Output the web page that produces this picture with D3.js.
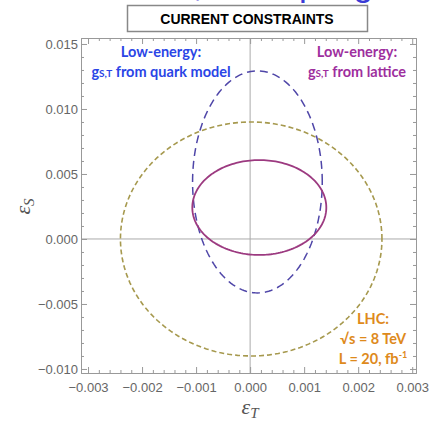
<!DOCTYPE html>
<html>
<head>
<meta charset="utf-8">
<script src="https://cdn.jsdelivr.net/npm/d3@7"></script>
<style>
  body { margin: 0; background: #fff; }
  svg { display: block; }
</style>
</head>
<body>
<svg id="chart"></svg>
<script>
// axis ticks
const xTicks = [-0.003, -0.002, -0.001, 0.000, 0.001, 0.002, 0.003];
const yTicks = [-0.010, -0.005, 0.000, 0.005, 0.010, 0.015];

// constraint ellipses: [centre eT, centre eS, half-width, half-height]
const quarkModel = [0.000135, 0.00439, 0.00120, 0.00854];
const lattice = [0.000170, 0.00242, 0.00124, 0.00365];
const lhc = [0.00002, 0.0000, 0.00242, 0.00900];

const W = 431, H = 425;
const mLeft = 81, mRight = 416, mTop = 38, mBottom = 373;

const svg = d3.select('#chart').attr('width', W).attr('height', H);
svg.append('rect').attr('width', W).attr('height', H).attr('fill', '#fff');

// scales
const x = d3.scaleLinear().domain([-0.00313, 0.00307]).range([mLeft, mRight]);
const y = d3.scaleLinear().domain([-0.01031, 0.01546]).range([mBottom, mTop]);

// cut-off heading at the very top
svg.append('text')
    .attr('x', 170).attr('y', -4)
    .attr('font-family', 'Liberation Sans, Arial, sans-serif')
    .attr('font-size', 35).attr('fill', '#3b3bd6')
    .text('S, T couplings');

// title box
svg.append('rect')
    .attr('x', 127.5).attr('y', 5.5).attr('width', 240).attr('height', 26)
    .attr('fill', '#fff').attr('stroke', '#888').attr('stroke-width', 1.5);
svg.append('text')
    .attr('x', 247).attr('y', 24)
    .attr('text-anchor', 'middle')
    .attr('font-family', 'Liberation Sans, Arial, sans-serif')
    .attr('font-weight', 'bold').attr('font-size', 14)
    .text('CURRENT CONSTRAINTS');

// zero lines
svg.append('line')
    .attr('x1', x(0)).attr('x2', x(0)).attr('y1', mTop).attr('y2', mBottom)
    .attr('stroke', '#aaa').attr('stroke-width', 1);
svg.append('line')
    .attr('x1', mLeft).attr('x2', mRight).attr('y1', y(0)).attr('y2', y(0))
    .attr('stroke', '#aaa').attr('stroke-width', 1);

// frame axes (ticks inside on all four sides)
const minorX = d3.range(-0.0030, 0.00301, 0.0002).filter(v => !xTicks.some(t => Math.abs(t - v) < 1e-9));
const minorY = d3.range(-0.010, 0.01501, 0.001).filter(v => !yTicks.some(t => Math.abs(t - v) < 1e-9));
const fmt = d => d3.format('.3f')(d).replace('-', '\u2212');

function styleAxis(g) {
    g.selectAll('.domain').attr('stroke', '#999');
    g.selectAll('.tick line').attr('stroke', '#999');
    g.selectAll('.tick text').attr('fill', '#666')
        .attr('font-family', 'Liberation Sans, Arial, sans-serif').attr('font-size', 13);
}

svg.append('g').attr('transform', `translate(0,${mBottom})`)
    .call(d3.axisBottom(x).tickValues(xTicks).tickFormat(fmt).tickSizeInner(-6).tickSizeOuter(0).tickPadding(10))
    .call(styleAxis);
svg.append('g').attr('transform', `translate(0,${mBottom})`)
    .call(d3.axisBottom(x).tickValues(minorX).tickFormat('').tickSizeInner(-3).tickSizeOuter(0))
    .call(styleAxis);
svg.append('g').attr('transform', `translate(0,${mTop})`)
    .call(d3.axisTop(x).tickValues(xTicks).tickFormat('').tickSizeInner(-6).tickSizeOuter(0))
    .call(styleAxis);
svg.append('g').attr('transform', `translate(0,${mTop})`)
    .call(d3.axisTop(x).tickValues(minorX).tickFormat('').tickSizeInner(-3).tickSizeOuter(0))
    .call(styleAxis);
svg.append('g').attr('transform', `translate(${mLeft},0)`)
    .call(d3.axisLeft(y).tickValues(yTicks).tickFormat(fmt).tickSizeInner(-6).tickSizeOuter(0).tickPadding(3))
    .call(styleAxis);
svg.append('g').attr('transform', `translate(${mLeft},0)`)
    .call(d3.axisLeft(y).tickValues(minorY).tickFormat('').tickSizeInner(-3).tickSizeOuter(0))
    .call(styleAxis);
svg.append('g').attr('transform', `translate(${mRight},0)`)
    .call(d3.axisRight(y).tickValues(yTicks).tickFormat('').tickSizeInner(-6).tickSizeOuter(0))
    .call(styleAxis);
svg.append('g').attr('transform', `translate(${mRight},0)`)
    .call(d3.axisRight(y).tickValues(minorY).tickFormat('').tickSizeInner(-3).tickSizeOuter(0))
    .call(styleAxis);

// ellipses
const ellipse = p => d3.range(0, 361, 2).map(a => {
    const t = a * Math.PI / 180;
    return [p[0] + p[2] * Math.cos(t), p[1] + p[3] * Math.sin(t)];
});
const line = d3.line().x(d => x(d[0])).y(d => y(d[1]));

svg.append('path').datum(ellipse(lhc)).attr('d', line)
    .attr('fill', 'none').attr('stroke', '#a6994e').attr('stroke-width', 1.6)
    .attr('stroke-dasharray', '5,3');
svg.append('path').datum(ellipse(quarkModel)).attr('d', line)
    .attr('fill', 'none').attr('stroke', '#4f46a8').attr('stroke-width', 1.5)
    .attr('stroke-dasharray', '8,5');
svg.append('path').datum(ellipse(lattice)).attr('d', line)
    .attr('fill', 'none').attr('stroke', '#9c3a80').attr('stroke-width', 1.8);

// annotations
function label(lines, cx, y0, color) {
    const t = svg.append('text')
        .attr('text-anchor', 'middle')
        .attr('font-family', 'Lato, sans-serif').attr('font-weight', 'bold')
        .attr('font-size', 14.5).attr('fill', color);
    lines.forEach((l, i) => {
        const ts = t.append('tspan').attr('x', cx).attr('y', y0 + i * l.dy);
        l.parts.forEach(p => ts.append('tspan').attr('font-size', p.fs || null)
            .attr('dy', p.shift || null).text(p.s));
    });
}
label([
    { dy: 0, parts: [{ s: 'Low-energy:' }] },
    { dy: 20, parts: [{ s: 'g' }, { s: 'S,T', fs: 10 }, { s: ' from quark model' }] }
], 161, 57, '#2a45e6');
label([
    { dy: 0, parts: [{ s: 'Low-energy:' }] },
    { dy: 20, parts: [{ s: 'g' }, { s: 'S,T', fs: 10 }, { s: ' from lattice' }] }
], 357, 57, '#9e2f9e');
label([
    { dy: 0, parts: [{ s: 'LHC:' }] },
    { dy: 20, parts: [{ s: '\u221As = 8 TeV' }] },
    { dy: 20, parts: [{ s: 'L = 20, fb' }, { s: '-1', fs: 9, shift: -6 }] }
], 373, 324, '#de8a1c');

// axis titles
svg.append('text')
    .attr('transform', `translate(30,${y(0.0025)}) rotate(-90)`)
    .attr('text-anchor', 'middle')
    .attr('font-family', 'Liberation Serif, serif').attr('font-style', 'italic')
    .attr('font-size', 22).attr('fill', '#555')
    .html('ε<tspan font-size="15" dy="4">S</tspan>');
svg.append('text')
    .attr('x', x(0)).attr('y', 414)
    .attr('text-anchor', 'middle')
    .attr('font-family', 'Liberation Serif, serif').attr('font-style', 'italic')
    .attr('font-size', 22).attr('fill', '#555')
    .html('ε<tspan font-size="15" dy="4">T</tspan>');
</script>
</body>
</html>
